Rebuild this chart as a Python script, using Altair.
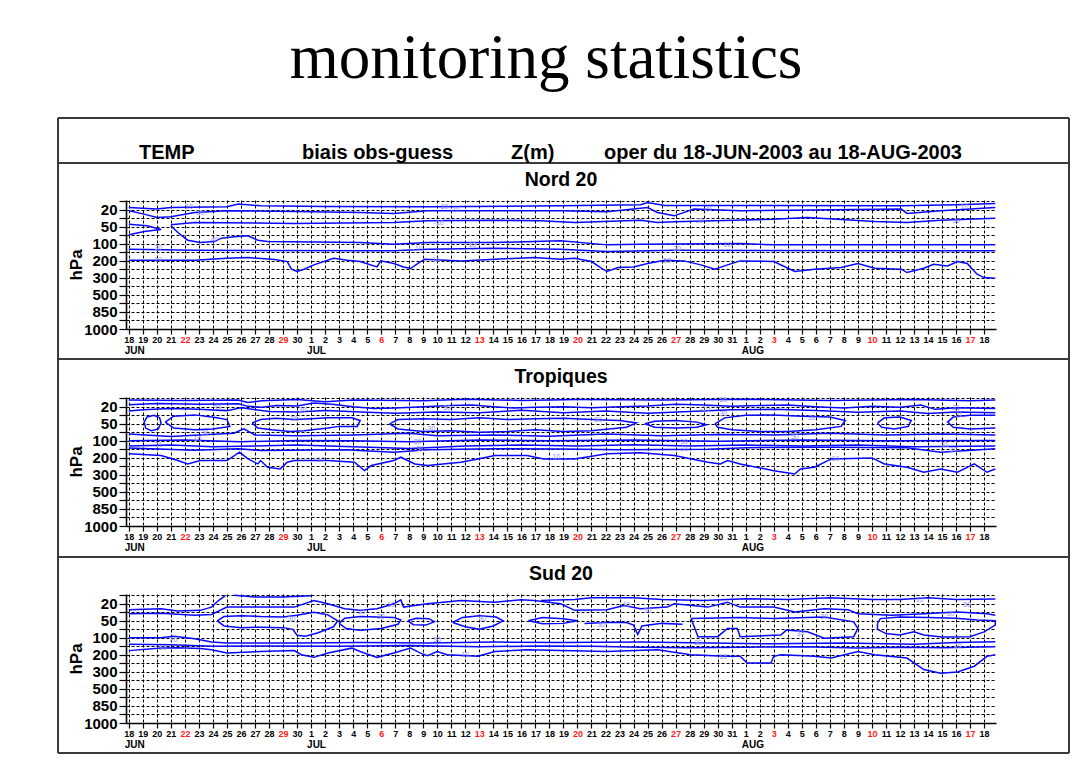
import json
import pandas as pd
import altair as alt

# ---------------- axis vocabularies ----------------
DAY_LABELS = ["18", "19", "20", "21", "22", "23", "24", "25", "26", "27", "28", "29", "30",
              "1", "2", "3", "4", "5", "6", "7", "8", "9", "10", "11", "12", "13", "14", "15",
              "16", "17", "18", "19", "20", "21", "22", "23", "24", "25", "26", "27", "28", "29",
              "30", "31",
              "1", "2", "3", "4", "5", "6", "7", "8", "9", "10", "11", "12", "13", "14", "15",
              "16", "17", "18"]
SUNDAY_INDEX = [4, 11, 18, 25, 32, 39, 46, 53, 60]
MONTHS = ["JUN", "JUL", "AUG"]
MONTH_START = [0, 13, 44]
LEVELS = [10, 20, 30, 50, 70, 100, 150, 200, 250, 300, 400, 500, 700, 850, 925, 1000]
LEVEL_TEXT = ["", "20", "", "50", "", "100", "", "200", "", "300", "", "500", "", "850", "", "1000"]

# ---------------- contour lines (day index, level index) ----------------
NORD_CONTOURS = [
    [(0, 0.73), (2.0, 0.92), (3.0, 0.73), (7.0, 0.65), (7.8, 0.33), (9.4, 0.53), (14.0, 0.6), (21.3, 0.65),
     (30.8, 0.53), (36.5, 0.41), (37.0, 0.14), (38.2, 0.5), (45.0, 0.5), (55.0, 0.53), (59.1, 0.41), (61.8, 0.25)],
    [(0, 1.12), (1.1, 1.51), (2.0, 1.9), (3.0, 1.82), (4.7, 1.31), (7.0, 1.12), (11.8, 1.2), (16.5, 1.31),
     (18.9, 1.43), (21.3, 1.12), (30.8, 1.12), (34.1, 1.24), (37.0, 0.73), (37.7, 1.31), (38.9, 1.71),
     (40.3, 0.92), (43.6, 1.12), (55.1, 0.92), (55.5, 1.43), (57.9, 1.12), (61.8, 0.73)],
    [(3.0, 2.77), (4.7, 2.49), (11.8, 2.61), (18.9, 2.49), (21.3, 2.3), (26.1, 2.22), (29.4, 2.3), (31.8, 2.49),
     (36.5, 2.22), (37.7, 2.49), (38.9, 2.41), (46.0, 2.1), (48.4, 1.9), (53.2, 2.37), (55.5, 2.49),
     (57.9, 2.22), (61.8, 1.98)],
    [(0, 2.69), (1.3, 2.88), (2.3, 3.31), (1.1, 3.55), (0, 3.94)],
    [(3.0, 2.88), (3.5, 3.67), (4.2, 4.57), (5.1, 4.84), (6.1, 4.73), (6.6, 4.33), (7.5, 4.18), (8.5, 4.06),
     (9.2, 4.57), (9.9, 4.73), (16.5, 4.84), (18.9, 5.04), (21.3, 4.84), (26.1, 4.84), (30.8, 4.65),
     (34.1, 5.12), (36.5, 5.04), (43.6, 4.96), (46.0, 5.12), (53.2, 5.12), (61.8, 5.12)],
    [(0, 5.63), (4.7, 5.75), (18.9, 5.82), (21.3, 5.63), (26.1, 5.51), (30.8, 5.63), (34.1, 5.9), (38.9, 5.75),
     (55.5, 5.82), (61.8, 5.82)],
    [(0, 6.92), (4.7, 6.92), (7.0, 6.69), (8.5, 6.61), (10.4, 6.84), (11.3, 7.08), (11.6, 7.98), (12.0, 8.25),
     (12.5, 7.98), (13.2, 7.47), (14.6, 6.69), (15.6, 6.92), (16.5, 7.08), (17.7, 7.71), (17.97, 7.0),
     (18.9, 7.31), (19.6, 7.71), (20.1, 7.9), (20.6, 7.31), (21.1, 6.8), (23.7, 7.0), (26.1, 6.8),
     (28.9, 6.61), (30.8, 6.8), (31.8, 6.69), (33.0, 7.08), (33.7, 7.86), (34.1, 8.25), (34.9, 7.78),
     (36.0, 7.71), (37.0, 7.31), (38.2, 6.92), (39.6, 7.0), (40.8, 7.47), (41.8, 7.98), (42.7, 7.47),
     (43.6, 7.0), (46.0, 7.08), (47.5, 8.25), (48.9, 7.98), (50.8, 7.78), (52.0, 7.31), (53.2, 7.86),
     (55.1, 7.98), (55.5, 8.37), (56.7, 7.86), (57.4, 7.39), (58.4, 7.59), (59.1, 7.08), (59.8, 7.31),
     (60.5, 8.57), (61.0, 8.96), (61.8, 9.04)],
]
NORD_LABELS = [(4.3, 0.65, "10"), (5.1, 1.43, "20"), (6.1, 4.6, "40"), (2.1, 5.5, "30"), (2.1, 6.85, "10"),
               (22.5, 0.65, "10"), (23.3, 1.05, "20"), (22.1, 2.5, "-10"), (24.5, 5.1, "10"), (20.6, 5.6, "-10"),
               (21.9, 6.85, "10"), (41.3, 0.9, "20"), (40.7, 2.3, "30"), (39.1, 5.6, "20"), (42.7, 5.1, "10"),
               (38.4, 7.0, "10"), (59.6, 0.65, "10"), (59.0, 2.3, "30"), (58.2, 5.8, "1")]

TROP_CONTOURS = [
    [(0, 0.2), (4, 0.25), (7.8, 0.2), (8.5, 0.5), (9.5, 0.3), (12, 0.15), (14, 0.4), (16, 0.2), (21, 0.3),
     (24, 0.1), (28, 0.25), (32, 0.15), (38, 0.2), (44, 0.1), (50, 0.25), (56, 0.15), (60, 0.3), (61.8, 0.2)],
    [(0, 0.75), (2, 0.6), (5, 0.7), (7.8, 0.65), (8.5, 0.95), (9.5, 1.05), (10.5, 0.85), (12, 0.9), (13.2, 0.55),
     (14.5, 0.7), (16, 1.0), (17.5, 1.2), (19, 1.15), (21, 1.0), (23, 0.85), (24.5, 0.8), (26, 1.0),
     (27.5, 1.15), (29, 1.05), (31, 1.0), (33, 1.1), (35, 1.0), (37, 0.9), (39, 0.7), (41, 0.8), (43, 0.95),
     (45, 0.85), (47, 0.8), (49, 1.0), (51, 1.15), (53, 0.95), (55, 1.05), (56.5, 0.8), (57.5, 1.3),
     (59, 1.1), (61.8, 1.2)],
    [(0, 1.5), (1, 1.35), (3, 1.2), (5, 1.3), (7, 1.45), (8, 1.1), (10, 1.55), (12, 1.6), (14, 1.45), (17, 1.65),
     (19, 1.75), (22, 1.6), (25, 1.7), (28, 1.4), (31, 1.7), (34, 1.5), (37, 1.75), (40, 1.55), (43, 1.35),
     (46, 1.3), (49, 1.45), (52, 1.65), (55, 1.5), (57, 1.8), (59, 1.6), (61.8, 1.7)],
    [(1.1, 2.8), (1.3, 2.2), (1.8, 2.0), (2.2, 2.3), (2.3, 2.9), (2.1, 3.6), (1.6, 3.8), (1.2, 3.5), (1.1, 2.8)],
    [(2.6, 2.8), (3.2, 2.1), (4.7, 1.95), (6.3, 2.3), (7.0, 2.5), (7.2, 3.3), (6.0, 3.6), (4.7, 3.7), (3.2, 3.5),
     (2.6, 2.8)],
    [(8.8, 2.9), (9.4, 2.5), (10.5, 2.35), (11.8, 2.5), (13.0, 2.4), (14.2, 2.3), (15.9, 2.3), (16.5, 2.6),
     (16.3, 3.3), (15.0, 3.3), (14.2, 3.5), (12.5, 3.8), (11.5, 3.9), (10.2, 3.7), (9.2, 3.5), (8.8, 2.9)],
    [(18.6, 3.0), (19.2, 2.5), (21, 2.4), (23, 2.5), (25, 2.3), (27, 2.5), (29, 2.4), (31, 2.35), (33, 2.5),
     (35, 2.6), (36.2, 2.9), (35.5, 3.4), (33, 3.8), (31, 3.9), (29, 3.7), (27, 3.9), (25, 4.0), (23, 3.8),
     (21, 3.9), (19.2, 3.6), (18.6, 3.0)],
    [(36.8, 3.0), (37.5, 2.7), (39, 2.6), (40.5, 2.8), (41.2, 3.1), (40.5, 3.4), (39, 3.5), (37.5, 3.4),
     (36.8, 3.0)],
    [(41.8, 3.0), (42.5, 2.3), (44, 2.0), (46, 1.95), (48, 2.1), (50, 2.2), (51.1, 2.6), (50.8, 3.3), (49, 3.7),
     (47, 3.9), (45, 3.9), (43, 3.7), (42, 3.4), (41.8, 3.0)],
    [(53.4, 2.9), (53.9, 2.3), (55, 2.2), (55.8, 2.6), (55.6, 3.3), (54.6, 3.6), (53.7, 3.4), (53.4, 2.9)],
    [(61.8, 2.0), (60, 2.0), (58.8, 2.2), (58.4, 2.8), (58.8, 3.4), (60, 3.6), (61.8, 3.5)],
    [(0, 4.2), (3, 4.5), (5, 4.3), (7.5, 4.1), (8.2, 3.6), (9, 4.3), (12, 4.4), (16, 4.3), (20, 4.1), (22, 4.4),
     (26, 4.3), (30, 4.45), (34, 4.2), (38, 4.4), (42, 4.25), (46, 4.3), (50, 4.1), (54, 4.3), (58, 4.2),
     (61.8, 4.3)],
    [(0, 5.0), (4, 4.9), (8, 5.1), (12, 4.95), (16, 5.0), (20, 5.1), (25, 4.9), (30, 5.0), (36, 4.9),
     (42, 5.05), (48, 4.9), (54, 5.0), (61.8, 4.95)],
    [(0, 5.6), (3, 5.5), (6, 5.7), (9, 5.6), (12, 5.5), (16, 5.7), (20, 5.9), (24, 5.6), (28, 5.5), (32, 5.6),
     (36, 5.45), (40, 5.6), (44, 5.5), (48, 5.6), (52, 5.5), (56, 5.7), (61.8, 5.6)],
    [(0, 5.85), (4.7, 6.1), (7.8, 5.93), (9.4, 6.13), (15.4, 6.05), (18.9, 6.33), (21.3, 6.05), (26.1, 5.94),
     (30.8, 5.95), (35, 6.05), (41.3, 6.0), (44, 5.8), (50, 5.75), (55.5, 5.8), (57.9, 6.33), (61.8, 5.93)],
    [(0, 6.52), (2.3, 6.72), (3.5, 7.31), (4.2, 7.71), (5.1, 7.31), (7.0, 7.31), (7.9, 6.33), (8.5, 7.12),
     (9.2, 7.71), (9.4, 7.31), (9.9, 8.1), (10.8, 8.3), (11.3, 7.51), (11.8, 7.31), (14.2, 7.31), (16.1, 7.51),
     (16.8, 8.5), (17.3, 7.9), (18.9, 7.31), (19.4, 6.92), (20.4, 7.71), (21.3, 7.9), (23.7, 7.51),
     (24.9, 7.12), (26.1, 6.72), (28.4, 6.72), (29.6, 7.12), (31.8, 7.12), (34.1, 6.52), (36.5, 6.41),
     (38.9, 6.72), (41.3, 7.51), (42.2, 7.71), (42.7, 7.31), (43.6, 7.71), (46.0, 8.5), (47.5, 8.89),
     (47.9, 8.3), (48.9, 8.1), (50.1, 7.12), (53.0, 7.0), (53.9, 7.71), (55.5, 8.1), (56.7, 8.69), (57.9, 8.3),
     (59.1, 8.69), (60.3, 7.71), (61.2, 8.69), (61.8, 8.3)],
]
TROP_LABELS = [(6.3, 1.2, "30"), (12.3, 1.35, "-30"), (11.8, 2.45, "30"), (5.4, 4.1, "30"), (4.9, 4.75, "10"),
               (2.1, 5.5, "31"), (13.7, 7.3, "10"), (22.7, 1.2, "30"), (21.5, 3.6, "-30"), (20.6, 5.1, "30"),
               (20.8, 5.9, "31"), (42.4, 0.2, "50"), (41.1, 1.3, "-10"), (42.4, 1.9, "30"), (33.5, 2.6, "30"),
               (48.7, 2.3, "30"), (39.6, 5.1, "30"), (39.6, 5.9, "31"), (47.5, 4.55, "50"), (50.4, 7.1, "10"),
               (30.5, 6.9, "10"), (59.0, 1.1, "31"), (59.2, 2.0, "31"), (58.2, 5.5, "31"), (58.8, 6.1, "30")]

SUD_CONTOURS = [
    [(0, 1.7), (2.3, 1.58), (3.5, 1.85), (5.1, 1.77), (5.9, 1.39), (6.4, 0.62), (6.9, 0.0)],
    [(0, 2.16), (2.3, 2.1), (4.7, 2.35), (5.9, 2.25), (7.0, 1.39), (9.4, 1.39), (11.8, 1.39), (13.2, 0.62),
     (14.2, 1.0), (15.4, 1.58), (16.5, 1.77), (17.7, 1.58), (18.9, 1.0), (19.4, 0.54), (19.6, 1.39),
     (20.4, 1.2), (21.3, 1.0), (23.7, 0.62), (26.1, 0.81), (28.0, 0.54), (28.9, 0.62), (30.8, 1.0),
     (31.8, 1.77), (34.1, 1.7), (35.3, 1.2), (36.5, 1.58), (38.4, 1.39), (38.9, 1.0), (41.3, 1.39),
     (42.7, 0.81), (43.6, 1.39), (46.0, 1.39), (47.5, 1.97), (49.6, 1.58), (51.3, 1.7), (52.0, 2.16),
     (54.4, 2.35), (56.7, 2.16), (59.1, 1.97), (61.2, 2.16), (61.8, 2.35)],
    [(29.4, 0.6), (31.8, 0.5), (33, 0.3), (36, 0.3), (38, 0.5), (41, 0.6), (44, 0.4), (47, 0.5), (50, 0.3),
     (53, 0.5), (55, 0.5), (57, 0.3), (59, 0.5), (61.8, 0.45)],
    [(7.5, 0.0), (9, 0.2), (11, 0.2), (13, 0.05)],
    [(6.3, 3.0), (6.8, 2.5), (8.0, 2.4), (9.4, 2.5), (11.0, 2.55), (12.0, 2.35), (13.2, 2.0), (14.2, 2.3),
     (14.9, 3.0), (14.6, 3.7), (13.5, 4.4), (12.6, 4.8), (12.0, 4.7), (11.7, 4.0), (11.0, 3.8), (9.4, 3.75),
     (8.0, 3.8), (6.8, 3.6), (6.3, 3.0)],
    [(15.0, 3.3), (15.4, 2.7), (16.5, 2.5), (17.7, 2.55), (18.9, 2.6), (19.4, 2.9), (19.2, 3.4), (18.0, 3.9),
     (16.5, 4.1), (15.5, 3.9), (15.0, 3.3)],
    [(19.9, 3.0), (20.5, 2.7), (21.4, 2.75), (21.8, 3.1), (21.2, 3.5), (20.3, 3.45), (19.9, 3.0)],
    [(23.1, 3.2), (23.8, 2.6), (25.0, 2.4), (26.2, 2.55), (26.7, 3.0), (26.0, 3.6), (25.0, 4.0), (24.0, 3.7),
     (23.1, 3.2)],
    [(28.5, 3.0), (29.5, 2.6), (31, 2.75), (32, 3.0), (31, 3.3), (29.5, 3.35), (28.5, 3.0)],
    [(32.5, 3.3), (34, 3.2), (35.5, 3.2), (36.0, 3.5), (36.3, 4.6), (36.6, 3.6), (38, 3.3), (39.5, 3.4)],
    [(40.1, 2.74), (40.6, 4.86), (42.0, 4.86), (42.7, 3.9), (43.4, 3.9), (43.6, 4.86), (46.5, 4.67),
     (46.9, 4.09), (48.4, 4.28), (49.6, 5.05), (51.7, 4.86), (52.0, 3.9), (51.7, 3.12), (49.6, 2.55),
     (46.0, 2.74), (43.6, 2.6), (40.1, 2.74)],
    [(53.4, 3.3), (53.6, 2.74), (55, 2.55), (57, 2.6), (59, 2.7), (60.5, 2.9), (61.8, 3.0), (61.8, 3.5),
     (61, 4.3), (60, 4.86), (58, 4.9), (56.7, 4.67), (56, 4.28), (55, 4.67), (54, 4.5), (53.4, 4.0),
     (53.4, 3.3)],
    [(0, 5.0), (2.3, 5.0), (3.2, 4.8), (4.7, 5.1), (5.9, 5.5), (7.0, 5.6), (11.8, 5.6), (16.5, 5.55),
     (21.3, 5.6), (26.1, 5.5), (30.8, 5.55), (36.5, 5.5), (41.3, 5.6), (46, 5.7), (51, 5.6), (56, 5.75),
     (59, 5.55), (61.8, 5.45)],
    [(0, 5.75), (3, 5.8), (6, 6.0), (10, 5.95), (15, 6.0), (20, 5.9), (25, 6.05), (29.4, 5.95), (33, 6.0),
     (36.5, 6.1), (40, 6.15), (44, 6.1), (48, 6.05), (52, 6.2), (55, 6.1), (58, 6.15), (61.8, 6.05)],
    [(0, 6.5), (2.3, 6.2), (3.5, 6.15), (5.1, 6.25), (5.9, 6.4), (7.0, 6.79), (9.4, 6.6), (11.8, 6.5),
     (12.3, 6.98), (13.2, 7.29), (14.2, 6.79), (15.9, 6.21), (16.5, 6.6), (17.7, 7.29), (18.9, 6.79),
     (20.1, 6.21), (20.8, 6.79), (21.3, 7.1), (22.0, 6.6), (22.7, 6.98), (24.9, 7.17), (26.1, 6.6),
     (28.4, 6.4), (30.8, 6.5), (34.1, 6.6), (37.7, 6.4), (40.1, 6.98), (42.5, 7.17), (43.6, 7.17),
     (44.1, 7.95), (45.8, 7.95), (46.0, 7.17), (46.5, 6.98), (48.9, 7.17), (50.1, 7.37), (52.0, 6.6),
     (53.2, 6.98), (55.5, 7.37), (56.7, 8.72), (57.9, 9.15), (59.1, 9.0), (60.3, 8.33), (61.2, 7.17),
     (61.8, 6.98)],
]
SUD_LABELS = [(2.4, 6.2, "10"), (3.2, 5.25, "20"), (11.6, 2.74, "30"), (16.6, 1.95, "30"), (18.7, 1.15, "10"),
              (17.97, 2.6, "30"), (22.0, 5.25, "30"), (24.0, 7.0, "10"), (25.2, 2.74, "30"), (33.7, 3.5, "30"),
              (35.5, 1.2, "10"), (37.0, 1.8, "30"), (40.6, 5.6, "30"), (42.4, 7.2, "10"), (47.9, 4.5, "30"),
              (49.6, 2.6, "30"), (56.4, 0.5, "10"), (58.6, 2.2, "30"), (59.8, 1.2, "30"), (59.1, 5.9, "30")]

PANELS = [("Nord 20", NORD_CONTOURS, NORD_LABELS),
          ("Tropiques", TROP_CONTOURS, TROP_LABELS),
          ("Sud 20", SUD_CONTOURS, SUD_LABELS)]

# ---------------- layout / style ----------------
W, H = 870, 129
X_DOMAIN = [-0.2, 61.85]
Y_DOMAIN = [15, -0.15]
LINE_BLUE = "#0808ff"
LABEL_BLUE = "#8c8cff"
FRAME = "#3a3a3a"
SANS = "Liberation Sans"

day_expr = json.dumps(DAY_LABELS) + "[datum.value]"
lev_expr = json.dumps(LEVEL_TEXT) + "[datum.value]"
sunday_test = "indexof(" + json.dumps(SUNDAY_INDEX) + ", datum.value) >= 0"

x_axis = alt.Axis(values=list(range(len(DAY_LABELS))), labelExpr=day_expr,
                  labelColor={"condition": {"test": sunday_test, "value": "#ff1a1a"}, "value": "black"},
                  labelFont=SANS, labelFontSize=9, labelFontWeight="bold", labelPadding=1.5,
                  labelFlush=False, labelOverlap=False, labelAngle=0, labelBound=False,
                  grid=True, gridColor="black", gridDash=[3, 2], gridWidth=1, gridOpacity=1,
                  tickColor="black", tickSize=5, tickWidth=1.2,
                  domainColor="black", domainWidth=1.6, title=None)
y_axis = alt.Axis(values=list(range(len(LEVELS))), labelExpr=lev_expr,
                  labelFont=SANS, labelFontSize=15, labelFontWeight="bold", labelPadding=2,
                  labelOverlap=False, labelFlush=False, labelBound=False,
                  grid=True, gridColor="black", gridDash=[3, 2], gridWidth=1, gridOpacity=1,
                  tickColor="black", tickSize=7, tickWidth=1.2,
                  domainColor="black", domainWidth=1.6,
                  title="hPa", titleFont=SANS, titleFontSize=17, titleFontWeight="bold",
                  titleAngle=270, titleX=-50, titleY=H / 2, titleAlign="center", titleBaseline="middle")

X = lambda: alt.X("day:Q", scale=alt.Scale(domain=X_DOMAIN, nice=False, zero=False), axis=x_axis)
Y = lambda: alt.Y("lev:Q", scale=alt.Scale(domain=Y_DOMAIN, nice=False, zero=False), axis=y_axis)

ONE = alt.Data(values=[{"k": 1}])


def lines_df(contours):
    rows = []
    for i, pts in enumerate(contours):
        for j, (d, l) in enumerate(pts):
            rows.append({"line": i, "seq": j, "day": d, "lev": l})
    return pd.DataFrame(rows)


def text_at(txt, x, y, size, weight="bold", font=SANS, align="left", color="black"):
    return alt.Chart(pd.DataFrame({"t": [txt]})).mark_text(
        align=align, baseline="alphabetic", fontSize=size, fontWeight=weight, font=font, color=color
    ).encode(text="t:N", x=alt.value(x), y=alt.value(y))


def seg(x1, x2, y1, y2, width=2, color=FRAME):
    return alt.Chart(ONE).mark_rule(color=color, strokeWidth=width).encode(
        x=alt.value(x1), x2=alt.value(x2), y=alt.value(y1), y2=alt.value(y2))


def panel(title, contours, labels, frame=False):
    lines = alt.Chart(lines_df(contours)).mark_line(color=LINE_BLUE, strokeWidth=1.5).encode(
        x=X(), y=Y(), detail="line:N", order="seq:Q")
    lab = alt.Chart(pd.DataFrame(labels, columns=["day", "lev", "txt"])).mark_text(
        color=LABEL_BLUE, fontSize=7, font=SANS).encode(x=X(), y=Y(), text="txt:N")
    months = alt.Chart(pd.DataFrame({"day": MONTH_START, "m": MONTHS})).mark_text(
        align="left", baseline="middle", dx=-4, fontSize=10, fontWeight="bold", font=SANS, color="black"
    ).encode(x=X(), y=alt.value(H + 22), text="m:N")
    ttl = text_at(title, W / 2, -14, 19.5, align="center")
    layers = [lines, lab, months, ttl]
    if frame:
        layers += [
            # invisible anchor at the page corner
            seg(-117, -117, -191, -190, width=1, color="white"),
            text_at("monitoring statistics", 420, -122, 63, weight="normal", font="Liberation Serif",
                    align="center"),
            seg(-68, 943, -82, -82), seg(-68, 943, 553, 553),
            seg(-68, -68, -82, 553), seg(943, 943, -82, 553),
            seg(-68, 943, -37, -37), seg(-68, 943, 159, 159), seg(-68, 943, 357, 357),
            text_at("TEMP", 13, -41, 20),
            text_at("biais obs-guess", 176, -41, 20),
            text_at("Z(m)", 385, -41, 20),
            text_at("oper du 18-JUN-2003 au 18-AUG-2003", 478, -41, 20),
        ]
    return alt.layer(*layers).properties(width=W, height=H)


charts = [panel(t, c, l, frame=(i == 0)) for i, (t, c, l) in enumerate(PANELS)]
chart = alt.vconcat(*charts, spacing=68, bounds="flush", padding=0).configure_view(stroke=None)
chart.save("out.html", embed_options={"renderer": "svg", "actions": False})
